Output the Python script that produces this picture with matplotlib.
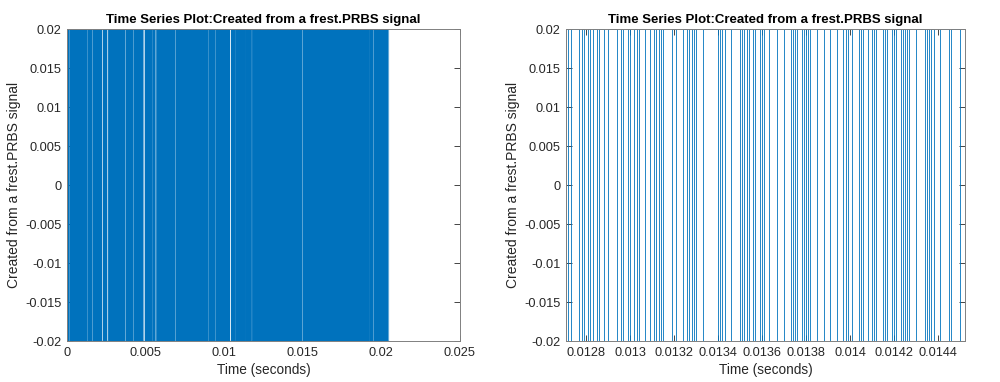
import numpy as np
import matplotlib
matplotlib.use("Agg")
import matplotlib.pyplot as plt
from matplotlib.ticker import FormatStrFormatter

plt.rcParams['font.family'] = ['Liberation Sans', 'DejaVu Sans']
plt.rcParams['axes.unicode_minus'] = False

# PRBS levels read as bits (1 = +amp, 0 = -amp), stored as hex, 256 samples per line
prbs_hex = [
    "A5C3E19B4D72F08E6B3A95D1C74E2B69F0A3D58C1E76B94A2D3F5C8E017B6D94",
    "03E9B5A6D1C47A2E96B3D85F1A4C7E29B65D3A98E1F724C69A5B3D1E80FF2C6A",
    "5D93A6C1E4B27F853C9A6D1BE5742AC936BD5E18A7C43F926B15D8E3A94C2B76",
    "D3A15E9C84B6F27A1D5C93E6B48A7D25C19E63B54AD87F21C6395AE4B17D28C3",
    "96E00F5A3B7C14D9E6A25B8CD317E94A6C2B5F831DA4E79BC5368AF24E1B9D7A",
    "5B3C92E6A18D47F5C2B69E3AD471C58B2E96A3D47BC15E289F4A6FF3C8E27195",
    "E5A93C6D1B47F28E96D3A5C17E4B29D8A36C15F9B2E84D7A3C96E15BD42A8F63",
    "9C5E3A17B6D48F2CA1E9735B4D8C26E9F1A35B7C28E6D94A5C3B17E29A6D4B81",
]
sample_time = 1e-5      # seconds
amplitude = 0.02

left_xticks = [0, 0.005, 0.01, 0.015, 0.02, 0.025]
right_xticks = [0.0128, 0.013, 0.0132, 0.0134, 0.0136, 0.0138, 0.014, 0.0142, 0.0144]
right_xlim = (0.012709, 0.014523)
yticks = [-0.02, -0.015, -0.01, -0.005, 0, 0.005, 0.01, 0.015, 0.02]

title = "Time Series Plot:Created from a frest.PRBS signal"
ylabel = "Created from a frest.PRBS signal"
xlabel = "Time (seconds)"

bits = np.array([int(b) for line in prbs_hex for ch in line for b in format(int(ch, 16), '04b')])
signal = np.where(bits == 1, amplitude, -amplitude)
t = np.arange(len(signal)) * sample_time

fig = plt.figure(figsize=(10, 3.82), dpi=100)
ax1 = fig.add_axes([0.067, 0.107, 0.393, 0.817])
ax2 = fig.add_axes([0.566, 0.107, 0.399, 0.817])

blue = '#0072BD'
for ax, lw in [(ax1, 0.4), (ax2, 0.6)]:
    ax.plot(t, signal, drawstyle='steps-post', color=blue, linewidth=lw)
    ax.set_ylim(-0.02, 0.02)
    ax.set_yticks(yticks)
    ax.yaxis.set_major_formatter(FormatStrFormatter('%g'))
    ax.xaxis.set_major_formatter(FormatStrFormatter('%g'))
    ax.tick_params(direction='in', top=True, right=True, length=4, width=0.6,
                   colors='#262626', labelsize=9.2, labelcolor='#262626', pad=4)
    for s in ax.spines.values():
        s.set_color('#808080')
        s.set_linewidth(0.7)
    ax.set_title(title, fontsize=9.5, fontweight='bold', pad=4)
    ax.set_xlabel(xlabel, fontsize=9.8, color='#262626', labelpad=3)
    ax.set_ylabel(ylabel, fontsize=10, color='#262626', labelpad=3)

ax1.set_xlim(0, 0.025)
ax1.set_xticks(left_xticks)
ax2.set_xlim(*right_xlim)
ax2.set_xticks(right_xticks)

plt.savefig("out.png", dpi=100)
